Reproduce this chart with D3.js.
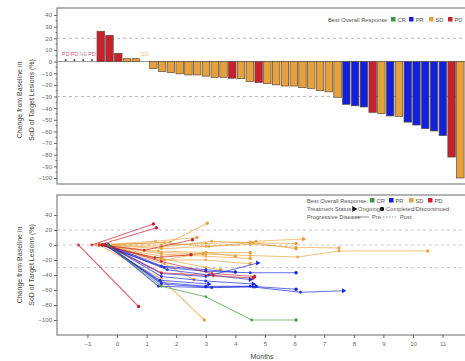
<!DOCTYPE html>
<html>
<head>
<meta charset="utf-8">
<script src="https://cdn.jsdelivr.net/npm/d3@7"></script>
<style>
  body { margin: 0; background: #fff; }
  text { font-family: "Liberation Sans", Arial, sans-serif; }
</style>
</head>
<body>
<svg id="chart" width="465" height="361"></svg>
<script>
// waterfall: best response per patient, sorted
const responseTypes = ["PD","PD","NE","PD","PD","PD","PD","SD","SD","SD",
  "SD","SD","SD","SD","SD","SD","SD","SD","SD","PD",
  "SD","SD","PD","SD","SD","SD","SD","SD","SD","SD",
  "SD","SD","PR","PR","PR","PD","SD","PR","SD","PR",
  "PR","PR","PR","PR","PD","SD"];
const changeValues = [0,0,0,0,26,22.5,7,2.5,2.5,0,
  -6,-8.5,-9.5,-10.5,-11.5,-11.5,-12.5,-13.5,-13.5,-14.3,
  -14.5,-17,-18,-19,-20,-21,-21,-22.4,-23,-25,
  -26,-30.7,-36.7,-38,-39,-43.6,-44.7,-46.7,-47,-52,
  -54.5,-57.6,-59.6,-63.6,-82,-100];
const zeroLabelIdx = [0, 1, 2, 3, 9];

const yTicksTop = d3.range(-100, 41, 10);
const yTicksBottom = [-100, -80, -60, -40, -20, 0, 20, 40];
const monthTicks = d3.range(-1, 12, 1);
const refLines = [20, -30];

// spider plot: [month, % change] per patient, grouped by best response
const crPaths = [
  { status: "done", pts: [[-0.3,0],[1.5,-55],[3.0,-69],[4.55,-100],[6.05,-100]] }
];
const prPaths = [
  { status: "on",   pts: [[-0.3,0],[1.5,-52],[3.0,-56],[4.6,-56],[6.2,-63],[7.65,-61]] },
  { status: "done", pts: [[-0.4,0],[1.5,-50],[3.0,-55],[4.5,-55],[6.05,-59]] },
  { status: "on",   pts: [[-0.3,0],[1.4,-55],[3.2,-57],[4.7,-55]] },
  { status: "done", pts: [[-0.5,0],[1.6,-30],[3.0,-35],[4.5,-37],[6.05,-37]] },
  { status: "on",   pts: [[-0.3,0],[1.5,-38],[3.0,-42],[4.75,-24]] },
  { status: "on",   pts: [[-0.4,0],[1.7,-33],[3.1,-40],[4.5,-46]] },
  { status: "on",   pts: [[-0.3,0],[1.5,-42],[3.0,-48],[4.6,-52]] },
  { status: "done", pts: [[-0.3,0],[1.5,-28],[3.0,-33],[4.0,-36]] },
  { status: "on",   pts: [[-0.4,0],[1.45,-47],[3.1,-52]] }
];
const sdPaths = [
  { status: "on",   pts: [[-0.6,0],[1.5,0],[3.0,2],[4.5,4],[4.7,5],[6.3,8]] },
  { status: "done", pts: [[-0.5,0],[1.5,-5],[3.0,-2],[4.5,3],[6.05,2]] },
  { status: "done", pts: [[-0.6,0],[1.6,3],[3.1,-2],[4.5,1],[6.05,-3],[7.5,-4]] },
  { status: "done", pts: [[-0.6,0],[1.5,-10],[3.0,-12],[4.5,-14],[6.1,-16],[7.5,-8],[10.5,-8]] },
  { status: "done", pts: [[-0.5,0],[1.8,4],[3.05,29]] },
  { status: "done", pts: [[-0.6,0],[1.5,-45],[2.95,-100]] },
  { status: "done", pts: [[-0.6,0],[1.5,-20],[3.0,-20],[4.5,-25]] },
  { status: "done", pts: [[-0.5,0],[1.5,-12],[3.0,-15],[4.5,-18]] },
  { status: "done", pts: [[-0.6,0],[1.4,-8],[3.0,-10],[4.0,-15]] },
  { status: "done", pts: [[-0.6,0],[1.5,-15],[2.9,-12]] },
  { status: "done", pts: [[-0.6,0],[1.6,-20],[3.0,-10],[4.5,-10]] },
  { status: "done", pts: [[-0.7,0],[1.3,5],[2.7,10]] },
  { status: "done", pts: [[-0.6,0],[1.5,-3],[3.2,5],[4.6,3],[6.05,-5]] },
  { status: "done", pts: [[-0.6,0],[1.6,-25],[2.6,-46]] },
  { status: "done", pts: [[-0.6,0],[1.5,-18],[3.0,-30],[3.5,-33]] }
];
const pdPaths = [
  { status: "done", pts: [[-1.3,0],[0.73,-82]] },
  { status: "done", pts: [[-0.85,0],[1.23,28]] },
  { status: "done", pts: [[-0.6,0],[1.33,23]] },
  { status: "done", pts: [[-0.5,0],[0.92,-7],[2.55,7]] },
  { status: "done", pts: [[-0.5,0],[1.28,-17],[2.5,-13]] },
  { status: "done", pts: [[-0.4,0],[1.5,-37],[3.25,-41],[4.6,-44]] },
  { status: "done", pts: [[-0.4,0],[1.5,-22],[3.2,-38],[4.65,-42]] }
];

const colors = { CR: "#3f9a3f", PR: "#1020dc", SD: "#e6a03c", PD: "#c8202e", NE: "#aaaaaa" };
const labelColors = { PD: "#d8587a", NE: "#b0b0b0", SD: "#ecc48e" };

const svg = d3.select("#chart");
const gray = "#666";
const fontFam = "Liberation Sans, Arial, sans-serif";

// ---------- top panel: waterfall ----------
const topBox = { left: 57, right: 472, top: 8, bottom: 184 };
const yTop = d3.scaleLinear().domain([-100, 40]).range([178, 15]);
const xBand = d3.scaleBand()
  .domain(d3.range(changeValues.length))
  .range([60.6, 60.6 + 8.8 * changeValues.length])
  .padding(0.15);

const defs = svg.append("defs");
defs.append("clipPath").attr("id", "clipTop")
  .append("rect").attr("x", topBox.left).attr("y", topBox.top)
  .attr("width", topBox.right - topBox.left).attr("height", topBox.bottom - topBox.top);

svg.append("rect")
  .attr("x", topBox.left).attr("y", topBox.top)
  .attr("width", topBox.right - topBox.left).attr("height", topBox.bottom - topBox.top)
  .attr("fill", "none").attr("stroke", "#8a8a8a").attr("stroke-width", 1.3);

const gTop = svg.append("g").attr("clip-path", "url(#clipTop)");

refLines.forEach(v => {
  gTop.append("line")
    .attr("x1", topBox.left).attr("x2", topBox.right)
    .attr("y1", yTop(v)).attr("y2", yTop(v))
    .attr("stroke", "#aaa").attr("stroke-width", 0.8).attr("stroke-dasharray", "3,3");
});

gTop.append("line")
  .attr("x1", topBox.left).attr("x2", topBox.right)
  .attr("y1", yTop(0)).attr("y2", yTop(0))
  .attr("stroke", "#999").attr("stroke-width", 1);

gTop.selectAll(".bar")
  .data(changeValues.map((v, i) => ({ v, i, t: responseTypes[i] })).filter(d => d.v !== 0))
  .enter().append("rect")
  .attr("class", "bar")
  .attr("x", d => xBand(d.i))
  .attr("width", xBand.bandwidth())
  .attr("y", d => yTop(Math.max(0, d.v)))
  .attr("height", d => Math.abs(yTop(d.v) - yTop(0)))
  .attr("fill", d => colors[d.t])
  .attr("stroke", "#5a4a3a").attr("stroke-width", 0.7);

// zero-change markers and labels
zeroLabelIdx.forEach(i => {
  const cx = xBand(i) + xBand.bandwidth() / 2;
  if (i < 4) {
    gTop.append("circle").attr("cx", cx).attr("cy", yTop(0) - 1.5).attr("r", 1.1).attr("fill", "#555");
  }
  gTop.append("text")
    .attr("x", cx).attr("y", yTop(0) - 5.5)
    .attr("text-anchor", "middle")
    .attr("font-size", 5.5)
    .attr("fill", labelColors[responseTypes[i]])
    .text(responseTypes[i]);
});

const yAxisTop = svg.append("g")
  .attr("transform", `translate(${topBox.left},0)`)
  .call(d3.axisLeft(yTop).tickValues(yTicksTop).tickSize(3).tickPadding(2));
yAxisTop.select(".domain").remove();
yAxisTop.selectAll("line").attr("stroke", gray);
yAxisTop.selectAll("text").attr("font-size", 6).attr("fill", gray).style("font-family", fontFam);
svg.append("g").selectAll("line")
  .data(d3.range(-95, 41, 10)).enter().append("line")
  .attr("x1", topBox.left - 1.5).attr("x2", topBox.left)
  .attr("y1", d => yTop(d)).attr("y2", d => yTop(d))
  .attr("stroke", gray);

// ---------- bottom panel: spider ----------
const botBox = { left: 57, right: 472, top: 195, bottom: 335 };
const xMonth = d3.scaleLinear().domain([0, 1]).range([117, 146.6]);
const yBot = d3.scaleLinear().domain([-100, 40]).range([320, 215]);

defs.append("clipPath").attr("id", "clipBot")
  .append("rect").attr("x", botBox.left).attr("y", botBox.top)
  .attr("width", botBox.right - botBox.left).attr("height", botBox.bottom - botBox.top);

svg.append("rect")
  .attr("x", botBox.left).attr("y", botBox.top)
  .attr("width", botBox.right - botBox.left).attr("height", botBox.bottom - botBox.top)
  .attr("fill", "none").attr("stroke", "#8a8a8a").attr("stroke-width", 1.3);

const gBot = svg.append("g").attr("clip-path", "url(#clipBot)");

[20, 0, -30].forEach(v => {
  gBot.append("line")
    .attr("x1", botBox.left).attr("x2", botBox.right)
    .attr("y1", yBot(v)).attr("y2", yBot(v))
    .attr("stroke", "#bbb").attr("stroke-width", 0.8).attr("stroke-dasharray", "3,3");
});

const line = d3.line().x(d => xMonth(d[0])).y(d => yBot(d[1]));
const groups = [["SD", sdPaths], ["PR", prPaths], ["PD", pdPaths], ["CR", crPaths]];

groups.forEach(([type, paths]) => {
  const c = colors[type];
  paths.forEach(p => {
    gBot.append("path")
      .attr("d", line(p.pts))
      .attr("fill", "none").attr("stroke", c)
      .attr("stroke-width", 1.1).attr("stroke-opacity", 0.65);
    gBot.selectAll(null)
      .data(p.pts.slice(0, -1)).enter().append("circle")
      .attr("cx", d => xMonth(d[0])).attr("cy", d => yBot(d[1]))
      .attr("r", 1.4).attr("fill", c).attr("fill-opacity", 0.85);
    const last = p.pts[p.pts.length - 1];
    if (p.status === "on") {
      gBot.append("path")
        .attr("d", d3.symbol().type(d3.symbolTriangle).size(10)())
        .attr("transform", `translate(${xMonth(last[0])},${yBot(last[1])}) rotate(90)`)
        .attr("fill", c);
    } else {
      gBot.append("circle")
        .attr("cx", xMonth(last[0])).attr("cy", yBot(last[1]))
        .attr("r", 1.7).attr("fill", c);
    }
  });
});

const yAxisBot = svg.append("g")
  .attr("transform", `translate(${botBox.left},0)`)
  .call(d3.axisLeft(yBot).tickValues(yTicksBottom).tickSize(3).tickPadding(2));
yAxisBot.select(".domain").remove();
yAxisBot.selectAll("line").attr("stroke", gray);
yAxisBot.selectAll("text").attr("font-size", 6).attr("fill", gray).style("font-family", fontFam);

const xAxisBot = svg.append("g")
  .attr("transform", `translate(0,${botBox.bottom})`)
  .call(d3.axisBottom(xMonth).tickValues(monthTicks).tickFormat(d3.format("d")).tickSize(3).tickPadding(4));
xAxisBot.select(".domain").remove();
xAxisBot.selectAll("line").attr("stroke", gray);
xAxisBot.selectAll("text").attr("font-size", 6).attr("fill", gray).style("font-family", fontFam);

svg.append("text")
  .attr("x", 262).attr("y", 359)
  .attr("text-anchor", "middle").attr("font-size", 7).attr("fill", "#444")
  .text("Months");

// y-axis titles
[100, 265].forEach(cy => {
  const t = svg.append("text")
    .attr("transform", `translate(0,${cy}) rotate(-90)`)
    .attr("text-anchor", "middle").attr("font-size", 7).attr("fill", "#444");
  t.append("tspan").attr("x", 0).attr("y", 22).text("Change from Baseline in");
  t.append("tspan").attr("x", 0).attr("y", 34).text("SoD of Target Lesions (%)");
});

// ---------- legends ----------
const legendTypes = ["CR", "PR", "SD", "PD"];
function responseLegend(x0, y0, title, xs) {
  svg.append("text").attr("x", x0).attr("y", y0 + 2).attr("font-size", 5.8).attr("fill", "#555").text(title);
  legendTypes.forEach((t, i) => {
    svg.append("rect").attr("x", xs[i]).attr("y", y0 - 3).attr("width", 4.5).attr("height", 4.5).attr("fill", colors[t]);
    svg.append("text").attr("x", xs[i] + 6.5).attr("y", y0 + 2).attr("font-size", 5.8).attr("fill", "#555").text(t);
  });
}
responseLegend(328, 20, "Best Overall Response", [391, 409, 429, 448]);
responseLegend(307, 201, "Best Overall Response:", [370, 389, 409, 428]);

svg.append("text").attr("x", 307).attr("y", 211).attr("font-size", 5.8).attr("fill", "#555").text("Treatment Status:");
svg.append("path").attr("d", d3.symbol().type(d3.symbolTriangle).size(16)())
  .attr("transform", "translate(354,209) rotate(90)").attr("fill", "#111");
svg.append("text").attr("x", 358).attr("y", 211).attr("font-size", 5.8).attr("fill", "#555").text("Ongoing");
svg.append("circle").attr("cx", 382).attr("cy", 209).attr("r", 2.2).attr("fill", "#111");
svg.append("text").attr("x", 386).attr("y", 211).attr("font-size", 5.8).attr("fill", "#555").text("Completed/Discontinued");

svg.append("text").attr("x", 307).attr("y", 219).attr("font-size", 5.8).attr("fill", "#555").text("Progressive Disease:");
svg.append("line").attr("x1", 356).attr("x2", 369).attr("y1", 217).attr("y2", 217).attr("stroke", "#777").attr("stroke-width", 0.8);
svg.append("text").attr("x", 372).attr("y", 219).attr("font-size", 5.8).attr("fill", "#555").text("Pre");
svg.append("line").attr("x1", 383).attr("x2", 396).attr("y1", 217).attr("y2", 217).attr("stroke", "#777").attr("stroke-width", 0.8).attr("stroke-dasharray", "1.5,1.5");
svg.append("text").attr("x", 400).attr("y", 219).attr("font-size", 5.8).attr("fill", "#555").text("Post");
</script>
</body>
</html>
